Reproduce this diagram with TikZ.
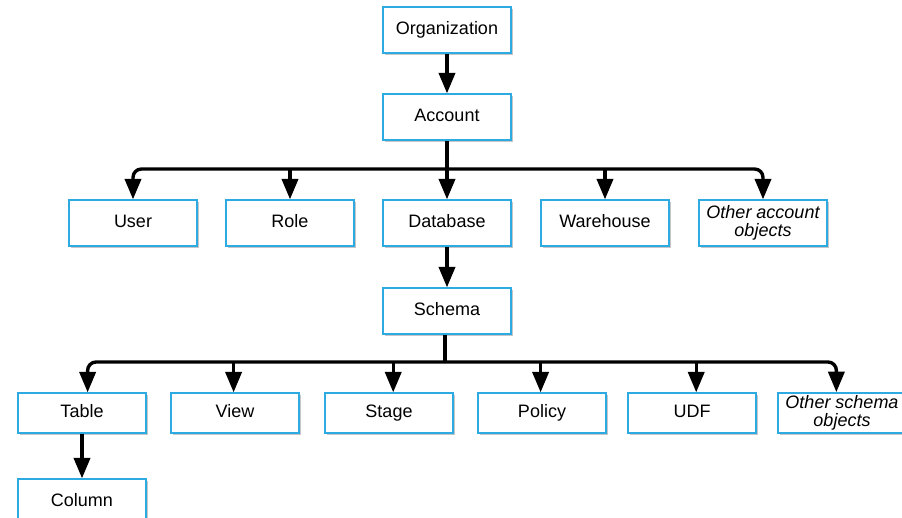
\documentclass[tikz,border=0pt]{standalone}
\usepackage{fontspec}
\setmainfont{Liberation Sans}
\usetikzlibrary{arrows,shadows}

\definecolor{boxblue}{RGB}{45,170,225}
\tikzset{
  obj/.style={draw=boxblue, line width=1.3pt, fill=white,
    minimum width=3.2cm, minimum height=1.15cm, inner sep=2pt,
    align=center, font=\fontsize{12.8}{12.5}\selectfont,
    execute at begin node={\rule[-3pt]{0pt}{12.4pt}},
    drop shadow={shadow xshift=1.2pt, shadow yshift=-1.2pt, opacity=.45, fill=gray}},
  lowobj/.style={obj, minimum height=1cm},
  link/.style={-triangle 45, line width=2.4pt, rounded corners=6pt},
  stem/.style={line width=2.4pt},
}

\begin{document}
\begin{tikzpicture}[x=.025cm,y=-.025cm]
    \clip (0,0) rectangle (902,518);
    % Organization and account
    \node[obj] (org) at (447,30) {Organization};
    \node[obj] (acct) at (447,117) {Account};
    \draw[link] (org) -- (acct);
    % Objects that live in the account
    \coordinate (acctjoin) at (447,169);
    \draw[stem] (acct.south) -- (acctjoin);
    \foreach \n/\x/\t in {user/133/User, role/290/Role, db/447/Database,
        wh/605/Warehouse, acctother/763/{\itshape Other account\\\itshape objects}}{
      \node[obj] (\n) at (\x,223) {\t};
    }
    \draw[link] (acctjoin) -| (user.north);
    \draw[link] (acctjoin) -| (acctother.north);
    \foreach \n in {role, db, wh}
      \draw[link] (acctjoin -| \n.north) -- (\n.north);
    % Schema under the database
    \node[obj] (schema) at (447,311) {Schema};
    \draw[link] (db) -- (schema);
    % Objects that live in the schema
    \coordinate (schemajoin) at (445,362);
    \draw[stem] (schema.south -| schemajoin) -- (schemajoin);
    \foreach \n/\x/\t in {tbl/82/Table, view/235/View, stage/389/Stage,
        policy/542/Policy, udf/692/UDF, schemaother/842/{\itshape Other schema\\\itshape objects}}{
      \node[lowobj] (\n) at (\x,413) {\t};
    }
    \draw[link] (schemajoin) -| ([xshift=4pt]tbl.north);
    \draw[link] (schemajoin) -| ([xshift=-4pt]schemaother.north);
    \foreach \n/\s in {view/-1pt, stage/3pt, policy/-1pt, udf/3pt}
      \draw[link] ([xshift=\s]schemajoin -| \n.north) -- ([xshift=\s]\n.north);
    % Column under the table
    \node[obj] (col) at (82,502) {Column};
    \draw[link] (tbl) -- (col);
\end{tikzpicture}
\end{document}
